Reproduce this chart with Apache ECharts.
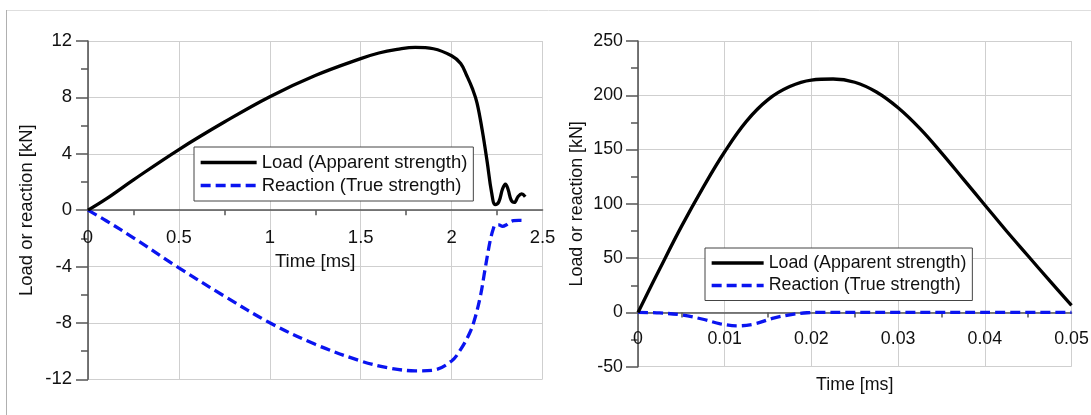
<!DOCTYPE html>
<html>
<head>
<meta charset="utf-8">
<script src="https://cdn.jsdelivr.net/npm/echarts@6/dist/echarts.min.js"></script>
<style>
html,body{margin:0;padding:0;background:#fff;}
#chart{width:1091px;height:415px;}
</style>
</head>
<body>
<div id="chart"></div>
<script>
// ---------- Left panel data (Time [ms], Load/Reaction [kN]) ----------
const leftLoadTime  = [0, 0.1, 0.25, 0.5, 0.75, 1.0, 1.25, 1.5, 1.6, 1.7, 1.8, 1.9, 2.0, 2.05, 2.085, 2.115, 2.14, 2.168, 2.196, 2.22, 2.24, 2.26, 2.28, 2.296, 2.31, 2.328, 2.345, 2.365, 2.385, 2.405];
const leftLoadValue = [0, 0.8, 2.15, 4.3, 6.25, 8.05, 9.55, 10.75, 11.15, 11.4, 11.55, 11.45, 10.95, 10.4, 9.5, 8.6, 7.6, 5.7, 3.4, 1.25, 0.4, 0.6, 1.5, 1.85, 1.5, 0.7, 0.55, 0.95, 1.15, 0.95];
const leftReactTime  = [0, 0.1, 0.25, 0.5, 0.75, 1.0, 1.25, 1.5, 1.65, 1.8, 1.9, 2.0, 2.05, 2.1, 2.13, 2.16, 2.18, 2.2, 2.215, 2.23, 2.24, 2.26, 2.28, 2.3, 2.32, 2.34, 2.37, 2.4];
const leftReactValue = [0, -0.75, -1.96, -4.09, -6.1, -7.99, -9.52, -10.7, -11.18, -11.4, -11.35, -10.7, -9.88, -8.7, -7.6, -6.0, -4.5, -3.0, -2.0, -1.3, -1.05, -1.05, -1.15, -1.05, -0.85, -0.75, -0.72, -0.73];

// ---------- Right panel data ----------
const rightLoadTime  = [0, 0.0025, 0.005, 0.0075, 0.01, 0.0125, 0.015, 0.0175, 0.02, 0.0225, 0.025, 0.0275, 0.03, 0.0325, 0.035, 0.0375, 0.04, 0.0425, 0.045, 0.0475, 0.05];
const rightLoadValue = [0, 40, 79, 115, 148, 176, 196, 208, 214, 215, 212, 203, 188.5, 169.5, 147, 123, 99, 75, 52, 29, 6.5];
const rightReactTime  = [0, 0.0025, 0.005, 0.0075, 0.0095, 0.0115, 0.0135, 0.0155, 0.0175, 0.0195, 0.021, 0.03, 0.04, 0.05];
const rightReactValue = [0, -0.5, -2.3, -6.3, -10.5, -12.4, -10.5, -5.5, -2.2, -0.3, 0, 0, 0, 0];

// ---------- Texts / ticks ----------
const seriesNames = ['Load (Apparent strength)', 'Reaction (True strength)'];
const xAxisName = 'Time [ms]';
const yAxisName = 'Load or reaction [kN]';
const leftXTicks = [0, 0.5, 1, 1.5, 2, 2.5];
const leftYTicks = [-12, -8, -4, 0, 4, 8, 12];
const rightXTicks = [0, 0.01, 0.02, 0.03, 0.04, 0.05];
const rightYTicks = [-50, 0, 50, 100, 150, 200, 250];

const zip = (xs, ys) => xs.map((x, i) => [x, ys[i]]);
const FONT = "'Liberation Sans', Arial, sans-serif";
const AXIS_COLOR = '#555';
const GRID_COLOR = '#cfcfcf';
const TEXT_COLOR = '#111';
const BLUE = '#0a14f0';

const grids = [
  { left: 88, top: 41, width: 454.5, height: 338.3, outerBoundsMode: 'none' },
  { left: 638, top: 41, width: 433.5, height: 325.7, outerBoundsMode: 'none' }
];
// lift the bottom x axis so it sits on y = 0 of its grid
const zeroOffset = (g, yt) => -g.height * (0 - yt[0]) / (yt[yt.length - 1] - yt[0]);

function xAxisCfg(gi, ticks, fs, nameGap, offset) {
  return {
    type: 'value', gridIndex: gi, position: 'bottom', offset: offset,
    min: ticks[0], max: ticks[ticks.length - 1], interval: ticks[1] - ticks[0],
    name: xAxisName, nameLocation: 'middle', nameGap: nameGap,
    nameTextStyle: { fontSize: fs, color: TEXT_COLOR, fontFamily: FONT },
    axisLine: { onZero: false, lineStyle: { color: AXIS_COLOR, width: 1.6 } },
    axisTick: { show: false, inside: false },
    minorTick: { show: true, splitNumber: 2, length: 5, lineStyle: { color: AXIS_COLOR, width: 1.5 } },
    axisLabel: { fontSize: fs, color: TEXT_COLOR, fontFamily: FONT, margin: 18,
      formatter: v => String(+(+v).toFixed(4)) },
    splitLine: { show: true, lineStyle: { color: GRID_COLOR, width: 1 } },
    minorSplitLine: { show: false }
  };
}
function yAxisCfg(gi, ticks, fs, nameGap, margin) {
  return {
    type: 'value', gridIndex: gi,
    min: ticks[0], max: ticks[ticks.length - 1], interval: ticks[1] - ticks[0],
    name: yAxisName, nameLocation: 'middle', nameGap: nameGap,
    nameTextStyle: { fontSize: fs, color: TEXT_COLOR, fontFamily: FONT },
    axisLine: { show: true, onZero: false, lineStyle: { color: AXIS_COLOR, width: 1.6 } },
    axisTick: { show: true, inside: false, length: 12, lineStyle: { color: AXIS_COLOR, width: 1.5 } },
    minorTick: { show: true, splitNumber: 2, length: 7, lineStyle: { color: AXIS_COLOR, width: 1.5 } },
    axisLabel: { fontSize: fs, color: TEXT_COLOR, fontFamily: FONT, margin: margin },
    splitLine: { show: true, lineStyle: { color: GRID_COLOR, width: 1 } },
    minorSplitLine: { show: false }
  };
}
function loadSeries(gi, data) {
  return { name: seriesNames[0], type: 'line', xAxisIndex: gi, yAxisIndex: gi,
    data: data, showSymbol: false, symbol: 'none', smooth: 0.4, z: 5,
    lineStyle: { color: '#000', width: 3.3 }, itemStyle: { color: '#000' } };
}
function reactSeries(gi, data) {
  return { name: seriesNames[1], type: 'line', xAxisIndex: gi, yAxisIndex: gi,
    data: data, showSymbol: false, symbol: 'none', smooth: 0.35, z: 4,
    lineStyle: { color: BLUE, width: 3.3, type: [10, 5] }, itemStyle: { color: BLUE } };
}
function legendCfg(left, top, fs, itemWidth, itemHeight, gap, pad) {
  return {
    data: seriesNames, orient: 'vertical', left: left, top: top,
    itemWidth: itemWidth, itemHeight: itemHeight, itemGap: gap, padding: pad,
    borderColor: '#444', borderWidth: 1, backgroundColor: '#fff',
    itemStyle: { opacity: 0 },
    lineStyle: { width: 3.3 },
    textStyle: { fontSize: fs, color: TEXT_COLOR, fontFamily: FONT },
    selectedMode: false, z: 10
  };
}

const chart = echarts.init(document.getElementById('chart'), null, { renderer: 'canvas' });
chart.setOption({
  animation: false,
  backgroundColor: '#fff',
  textStyle: { fontFamily: FONT },
  graphic: [
    { type: 'line', shape: { x1: 6, y1: 10.5, x2: 1091, y2: 10.5 }, style: { stroke: '#dedede', lineWidth: 1 }, silent: true },
    { type: 'line', shape: { x1: 6.5, y1: 10, x2: 6.5, y2: 415 }, style: { stroke: '#b0b0b0', lineWidth: 1 }, silent: true }
  ],
  grid: grids,
  legend: [
    legendCfg(194, 147, 18.5, 56, 19, 4, [6, 6, 6, 5]),
    legendCfg(705, 248, 17.8, 52, 18, 4.5, [6, 6, 6, 5])
  ],
  xAxis: [
    xAxisCfg(0, leftXTicks, 18.5, 38, zeroOffset(grids[0], leftYTicks)),
    xAxisCfg(1, rightXTicks, 17.8, 64, zeroOffset(grids[1], rightYTicks))
  ],
  yAxis: [ yAxisCfg(0, leftYTicks, 18.5, 52, 16), yAxisCfg(1, rightYTicks, 17.8, 52, 15) ],
  series: [
    loadSeries(0, zip(leftLoadTime, leftLoadValue)),
    reactSeries(0, zip(leftReactTime, leftReactValue)),
    loadSeries(1, zip(rightLoadTime, rightLoadValue)),
    reactSeries(1, zip(rightReactTime, rightReactValue))
  ]
});
</script>
</body>
</html>
